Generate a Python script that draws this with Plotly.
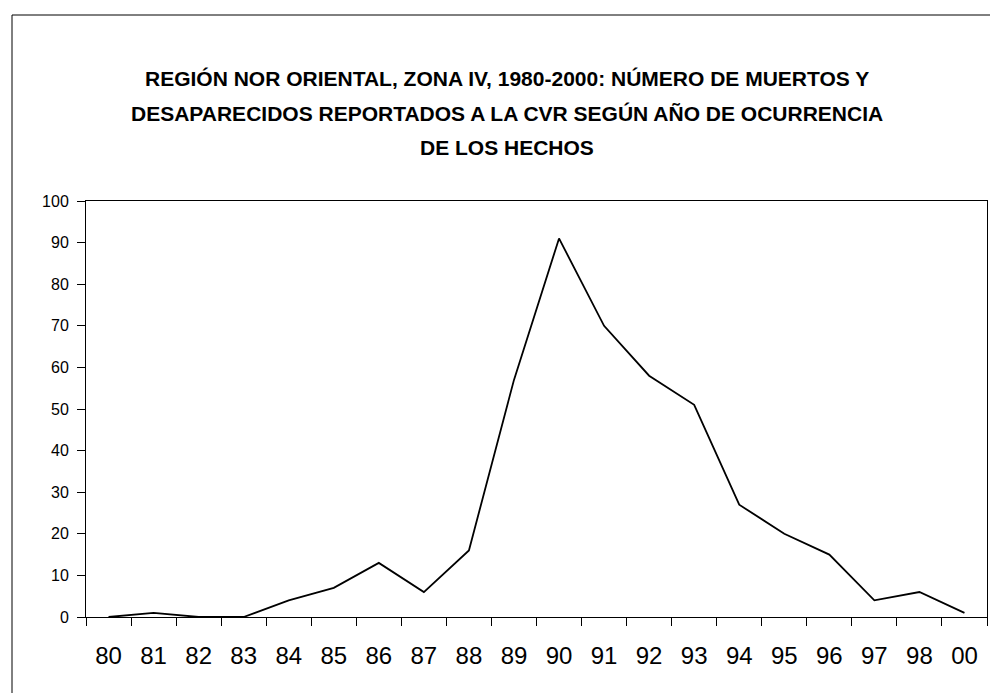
import plotly.graph_objects as go

years = ["80", "81", "82", "83", "84", "85", "86", "87", "88", "89",
         "90", "91", "92", "93", "94", "95", "96", "97", "98", "00"]
victims = [0, 1, 0, 0, 4, 7, 13, 6, 16, 57, 91, 70, 58, 51, 27, 20, 15, 4, 6, 1]
title_lines = [
    "REGIÓN NOR ORIENTAL, ZONA IV, 1980-2000: NÚMERO DE MUERTOS Y",
    "DESAPARECIDOS REPORTADOS A LA CVR SEGÚN AÑO DE OCURRENCIA",
    "DE LOS HECHOS",
]

W, H = 990, 693
S_L, S_T, S_R, S_B = 86, 201, 987, 617   # plot area in screen pixels
L, T = S_L, S_T
R = W - S_R
B = H - S_B
pw, ph = S_R - S_L, S_B - S_T

def px(x):
    return (x - S_L) / pw

def py(y):
    return (S_B - y) / ph

FONT = "Liberation Sans Narrow, Arial Narrow, Liberation Sans, Arial, sans-serif"

fig = go.Figure()
fig.add_trace(go.Scatter(x=years, y=victims, mode="lines",
                         line=dict(color="black", width=1.8),
                         hoverinfo="x+y", showlegend=False))

fig.update_layout(
    width=W, height=H,
    margin=dict(l=L, r=R, t=T, b=B, pad=0),
    paper_bgcolor="white", plot_bgcolor="white",
    font=dict(family=FONT, color="black"),
    xaxis=dict(type="category", range=[-0.5, 19.5], tickson="boundaries",
               ticks="outside", ticklen=8, tickcolor="black",
               showline=True, linecolor="black", linewidth=1, mirror=True,
               showgrid=False, zeroline=False,
               tickfont=dict(size=24, family=FONT, color="black"),
               ticklabelstandoff=17),
    yaxis=dict(range=[0, 100], dtick=10, ticks="outside", ticklen=8,
               tickcolor="black", showline=True, linecolor="black",
               linewidth=1, mirror=True, showgrid=False, zeroline=False,
               tickfont=dict(size=16, family=FONT, color="black"),
               ticklabelstandoff=5),
)

for i, line in enumerate(title_lines):
    fig.add_annotation(text="<b>" + line + "</b>", xref="paper", yref="paper",
                       x=px(507), y=py(78 + 35 * i), xanchor="center",
                       yanchor="middle", showarrow=False,
                       font=dict(size=21, family=FONT, color="black"))

fig.add_shape(type="rect", xref="paper", yref="paper",
              x0=px(12), x1=px(1010), y0=py(720), y1=py(15),
              line=dict(color="black", width=1), fillcolor="rgba(0,0,0,0)",
              layer="below")

fig.write_html(
    "out.html",
    config={"displayModeBar": False},
    post_script="document.body.style.margin='0';"
                "document.documentElement.style.overflow='hidden';",
)
